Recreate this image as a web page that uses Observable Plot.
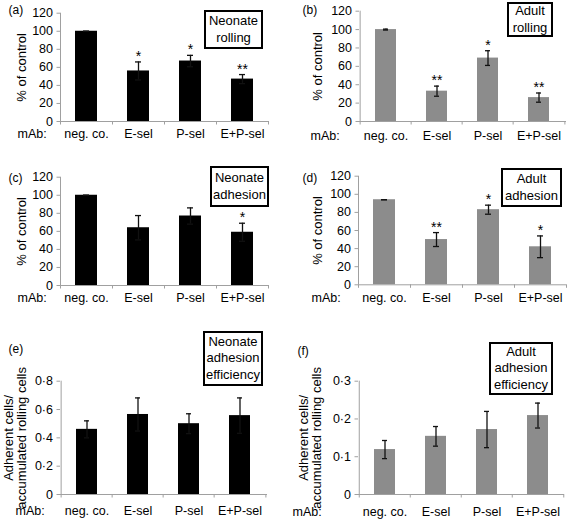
<!DOCTYPE html>
<html><head><meta charset="utf-8">
<script src="https://cdn.jsdelivr.net/npm/d3@7"></script>
<script src="https://cdn.jsdelivr.net/npm/@observablehq/plot@0.6"></script>
<style>
body{margin:0;background:#fff;font-family:"Liberation Sans",Arial,sans-serif;}
#fig{position:relative;width:568px;height:520px;overflow:hidden;background:#fff;}
.panel{position:absolute;}
.box{position:absolute;border:2px solid #000;box-sizing:border-box;text-align:center;font-size:13px;line-height:16.5px;display:flex;flex-direction:column;justify-content:center;background:#fff;color:#000;}
</style></head><body><div id="fig"></div>
<script>
const categories = ["neg. co.", "E-sel", "P-sel", "E+P-sel"];

const neonateRolling = [100, 56, 67, 47];
const neonateRollingErr = [0, 10, 6.3, 5];
const neonateRollingStars = ["", "*", "*", "**"];

const adultRolling = [100, 33, 69, 26];
const adultRollingErr = [0.5, 5.5, 8, 5];
const adultRollingStars = ["", "**", "*", "**"];

const neonateAdhesion = [100, 64, 77, 59];
const neonateAdhesionErr = [0, 13.5, 9, 10];
const neonateAdhesionStars = ["", "", "", "*"];

const adultAdhesion = [94, 50, 83, 42];
const adultAdhesionErr = [0, 7.7, 5, 12];
const adultAdhesionStars = ["", "**", "*", "*"];

const neonateEfficiency = [0.46, 0.565, 0.5, 0.557];
const neonateEfficiencyErr = [0.06, 0.117, 0.07, 0.125];

const adultEfficiency = [0.119, 0.154, 0.172, 0.209];
const adultEfficiencyErr = [0.024, 0.026, 0.048, 0.033];

const percentTicks = [0, 20, 40, 60, 80, 100, 120];
const neonateEffTicks = [0, 0.2, 0.4, 0.6, 0.8];
const adultEffTicks = [0, 0.1, 0.2, 0.3];

const BLACK = "#000000";
const GREY = "#8c8c8c";
const AXIS = "#a0a0a0";
const FONT = "'Liberation Sans', Arial, Helvetica, sans-serif";

const dotFmt = d => d === 0 ? "0" : d3.format(".1f")(d).replace(".", "\u00b7");

const fig = document.getElementById("fig");

function panel(o) {
  const rows = categories.map((c, i) => ({cat: c, v: o.values[i], e: o.errors[i], s: o.stars ? o.stars[i] : ""}));
  const step = (o.width - o.ml - o.mr) / categories.length;
  const chart = Plot.plot({
    width: o.width, height: o.height,
    marginLeft: o.ml, marginRight: o.mr, marginTop: o.mt, marginBottom: o.mb,
    style: {fontFamily: FONT, fontSize: "12.5px", background: "transparent", overflow: "visible", color: "#000"},
    x: {domain: categories, paddingInner: 0.58, paddingOuter: 0.29, axis: null},
    y: {domain: [0, o.yMax], axis: null},
    marks: [
      Plot.barY(rows, {x: "cat", y: "v", fill: o.color}),
      Plot.ruleY([0], {stroke: AXIS, strokeWidth: 1}),
      Plot.ruleX([categories[0]], {x: d => d, dx: -step / 2, y1: 0, y2: o.yMax, stroke: AXIS, strokeWidth: 1}),
      Plot.ruleX(categories, {x: d => d, dx: -step / 2, y1: 0, y2: 0, insetBottom: -3.5, stroke: AXIS}),
      Plot.ruleX([categories[categories.length - 1]], {x: d => d, dx: step / 2, y1: 0, y2: 0, insetBottom: -3.5, stroke: AXIS}),
      Plot.axisY({ticks: o.ticks, tickFormat: o.fmt, tickSize: 3.5, tickPadding: 4, stroke: AXIS, fill: "#000", fontSize: 12.5, label: null}),
      Plot.axisX({tickSize: 0, tickPadding: o.pad, fill: "#000", fontSize: 12.5, label: null}),
      Plot.ruleX(rows, {x: "cat", y1: d => d.v - d.e, y2: d => d.v + d.e, stroke: "#111", strokeWidth: 1.3}),
      Plot.tickY(rows, {x: "cat", y: d => d.v + d.e, stroke: "#111", strokeWidth: 1.3, insetLeft: 8, insetRight: 8}),
      Plot.tickY(rows, {x: "cat", y: d => d.v - d.e, stroke: "#111", strokeWidth: 1.3, insetLeft: 8, insetRight: 8}),
      Plot.text(rows, {x: "cat", y: d => d.v + d.e, text: "s", lineAnchor: "bottom", dy: -1, fontSize: 14, fill: "#000"}),
      Plot.text(["mAb:"], {text: d => d, frameAnchor: "bottom-left", dx: o.mabDx, dy: o.pad, lineAnchor: "top", textAnchor: "start", fontSize: 12.5, fill: "#000"}),
      Plot.text([o.label], {text: d => d, frameAnchor: "top-left", dx: o.labDx, dy: o.labDy, lineAnchor: "middle", textAnchor: "start", fontSize: 12, fill: "#000"}),
      Plot.text([o.ytitle], {text: d => d, frameAnchor: "left", dx: o.titleDx, rotate: -90, lineAnchor: "middle", textAnchor: "middle", lineHeight: 1.0, fontSize: 13, fill: "#000"})
    ]
  });
  chart.classList.add("panel");
  chart.style.left = o.left + "px";
  chart.style.top = o.top + "px";
  fig.appendChild(chart);
  const b = document.createElement("div");
  b.className = "box";
  b.style.left = o.box[0] + "px";
  b.style.top = o.box[1] + "px";
  b.style.width = o.box[2] + "px";
  b.style.height = o.box[3] + "px";
  o.boxText.forEach(t => { const s = document.createElement("div"); s.textContent = t; b.appendChild(s); });
  fig.appendChild(b);
}

panel({values: neonateRolling, errors: neonateRollingErr, stars: neonateRollingStars, color: BLACK,
  yMax: 120, ticks: percentTicks, fmt: d => d, left: 0, top: 0, width: 284, height: 165,
  ml: 60, mr: 16, mt: 12.7, mb: 44, pad: 8, mabDx: -43, label: "(a)", labDx: -52, labDy: -2.7,
  ytitle: "% of control", titleDx: -39, boxText: ["Neonate", "rolling"], box: [204, 10, 59, 39]});

panel({values: adultRolling, errors: adultRollingErr, stars: adultRollingStars, color: GREY,
  yMax: 120, ticks: percentTicks, fmt: d => d, left: 284, top: 0, width: 284, height: 165,
  ml: 75, mr: 2, mt: 10.7, mb: 44, pad: 10, mabDx: -49, label: "(b)", labDx: -57, labDy: -0.7,
  ytitle: "% of control", titleDx: -42, boxText: ["Adult", "rolling"], box: [507, 2, 46, 35]});

panel({values: neonateAdhesion, errors: neonateAdhesionErr, stars: neonateAdhesionStars, color: BLACK,
  yMax: 120, ticks: percentTicks, fmt: d => d, left: 0, top: 165, width: 284, height: 165,
  ml: 60, mr: 16, mt: 11.7, mb: 45, pad: 8, mabDx: -43, label: "(c)", labDx: -52, labDy: 1.3,
  ytitle: "% of control", titleDx: -39, boxText: ["Neonate", "adhesion"], box: [210, 166, 59, 41]});

panel({values: adultAdhesion, errors: adultAdhesionErr, stars: adultAdhesionStars, color: GREY,
  yMax: 120, ticks: percentTicks, fmt: d => d, left: 284, top: 165, width: 284, height: 165,
  ml: 74, mr: 2, mt: 10.7, mb: 45.7, pad: 8.5, mabDx: -47, label: "(d)", labDx: -56, labDy: 2.3,
  ytitle: "% of control", titleDx: -41, boxText: ["Adult", "adhesion"], box: [501, 168, 61, 39]});

panel({values: neonateEfficiency, errors: neonateEfficiencyErr, stars: null, color: BLACK,
  yMax: 0.8, ticks: neonateEffTicks, fmt: dotFmt, left: 0, top: 330, width: 284, height: 190,
  ml: 60, mr: 17, mt: 50.7, mb: 26, pad: 12, mabDx: -45, label: "(e)", labDx: -52, labDy: -31.7,
  ytitle: "Adherent cells/\naccumulated rolling cells", titleDx: -45.5,
  boxText: ["Neonate", "adhesion", "efficiency"], box: [203, 331, 60, 55]});

panel({values: adultEfficiency, errors: adultEfficiencyErr, stars: null, color: GREY,
  yMax: 0.3, ticks: adultEffTicks, fmt: dotFmt, left: 284, top: 330, width: 284, height: 190,
  ml: 74, mr: 4, mt: 50.7, mb: 26, pad: 12.5, mabDx: -66, label: "(f)", labDx: -61, labDy: -29.7,
  ytitle: "Adherent cells/\naccumulated rolling cells", titleDx: -48.5,
  boxText: ["Adult", "adhesion", "efficiency"], box: [489, 342, 64, 53]});
</script>
</body></html>
